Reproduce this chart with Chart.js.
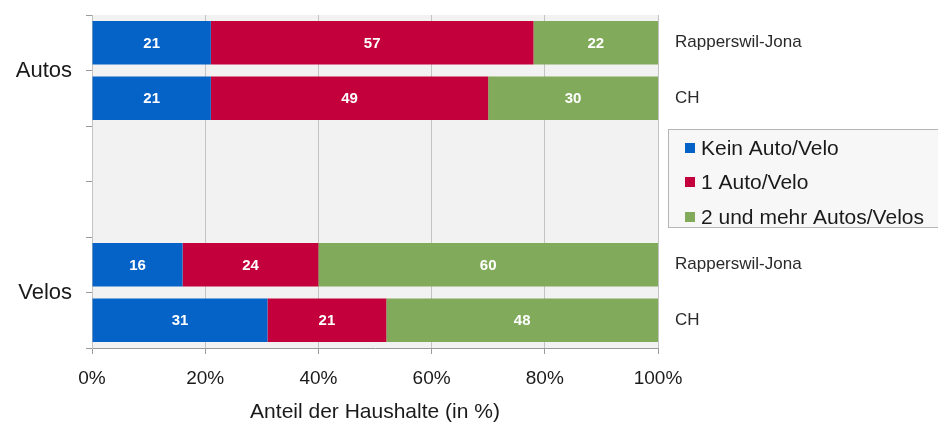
<!DOCTYPE html>
<html>
<head>
<meta charset="utf-8">
<script src="https://cdn.jsdelivr.net/npm/chart.js@4/dist/chart.umd.min.js"></script>
<style>
html,body{margin:0;padding:0;background:#fff;}
#wrap{width:938px;height:428px;position:relative;}
</style>
</head>
<body>
<div id="wrap"><canvas id="c" width="938" height="428"></canvas></div>
<script>
// ---- data ----
const categories = ['Rapperswil-Jona', 'CH', '', '', 'Rapperswil-Jona', 'CH'];
const groupLabels = ['Autos', 'Velos'];
const groupPositions = [1, 5];
const seriesNames = ['Kein Auto/Velo', '1 Auto/Velo', '2 und mehr Autos/Velos'];
const keinValues = [21, 21, null, null, 16, 31];
const einValues = [57, 49, null, null, 24, 21];
const zweiValues = [22, 30, null, null, 60, 48];
const xTickValues = [0, 20, 40, 60, 80, 100];
const groupTickValues = [0, 1, 2, 3, 4, 5, 6];
const seriesColors = ['#0563c8', '#c3003c', '#81aa5b'];

const FONT = "'Liberation Sans', Arial, sans-serif";

const bgPlugin = {
  id: 'bg',
  beforeDraw(chart) {
    const a = chart.chartArea, ctx = chart.ctx;
    ctx.save();
    ctx.fillStyle = '#f2f2f2';
    ctx.fillRect(a.left, a.top, a.right - a.left, a.bottom - a.top);
    ctx.restore();
  }
};

const labelPlugin = {
  id: 'barLabels',
  afterDatasetsDraw(chart) {
    const ctx = chart.ctx;
    ctx.save();
    ctx.fillStyle = '#ffffff';
    ctx.font = "bold 15px " + FONT;
    ctx.textAlign = 'center';
    ctx.textBaseline = 'middle';
    chart.data.datasets.forEach((ds, di) => {
      const meta = chart.getDatasetMeta(di);
      meta.data.forEach((el, i) => {
        const v = ds.data[i];
        if (v === null || v === undefined) return;
        const cx = (el.x + el.base) / 2;
        ctx.fillText(String(v), cx, el.y + 1);
      });
    });
    ctx.restore();
  }
};

const legendPlugin = {
  id: 'boxLegend',
  afterDraw(chart) {
    const ctx = chart.ctx;
    const x = 668, y = 129, w = 275, h = 98;
    ctx.save();
    ctx.fillStyle = '#f7f7f7';
    ctx.fillRect(x, y, w, h);
    ctx.strokeStyle = '#b5b5b5';
    ctx.lineWidth = 1;
    ctx.strokeRect(x + 0.5, y + 0.5, w, h);
    ctx.font = "21px " + FONT;
    ctx.textBaseline = 'middle';
    ctx.textAlign = 'left';
    const rows = [148, 182, 217];
    chart.data.datasets.forEach((ds, i) => {
      ctx.fillStyle = ds.backgroundColor;
      ctx.fillRect(685, rows[i] - 5, 10, 10);
      ctx.fillStyle = '#1a1a1a';
      ctx.fillText(ds.label, 701, rows[i] + 1);
    });
    ctx.restore();
  }
};

new Chart(document.getElementById('c'), {
  type: 'bar',
  data: {
    labels: categories,
    datasets: [
      { label: seriesNames[0], data: keinValues, backgroundColor: seriesColors[0] },
      { label: seriesNames[1], data: einValues, backgroundColor: seriesColors[1] },
      { label: seriesNames[2], data: zweiValues, backgroundColor: seriesColors[2] }
    ]
  },
  options: {
    indexAxis: 'y',
    responsive: false,
    animation: false,
    layout: { padding: { top: 15, left: 0, right: 0, bottom: 0 } },
    datasets: { bar: { barPercentage: 0.78, categoryPercentage: 1, borderWidth: 0 } },
    plugins: { legend: { display: false }, tooltip: { enabled: false } },
    scales: {
      x: {
        type: 'linear', position: 'bottom', stacked: true, min: 0, max: 100,
        afterBuildTicks(axis) { axis.ticks = xTickValues.map(v => ({ value: v })); },
        ticks: { callback: v => v + '%', color: '#1a1a1a', font: { size: 19, family: FONT }, padding: 13 },
        grid: { color: '#c3c3c3', tickColor: '#9a9a9a', tickLength: 6, lineWidth: 1 },
        border: { display: true, color: '#9a9a9a' },
        title: { display: true, text: 'Anteil der Haushalte (in %)', color: '#1a1a1a', font: { size: 21, family: FONT }, padding: { top: 8, bottom: 3 } },
        afterFit(axis) { axis.height = 80; }
      },
      y: {
        type: 'category', position: 'right', stacked: true,
        grid: { display: false, drawTicks: false },
        border: { display: false },
        ticks: { color: '#2a2a2a', font: { size: 17, family: FONT }, padding: 17 },
        afterFit(axis) { axis.width = 280; axis.paddingTop = 0; axis.paddingBottom = 0; }
      },
      yg: {
        type: 'linear', position: 'left', min: 0, max: 6, reverse: true,
        offset: false,
        afterBuildTicks(axis) { axis.ticks = groupTickValues.map(v => ({ value: v })); },
        ticks: {
          autoSkip: false,
          color: '#1a1a1a', font: { size: 22, family: FONT }, padding: 14,
          callback: v => { const k = groupPositions.indexOf(v); return k >= 0 ? groupLabels[k] : ''; }
        },
        grid: { offset: false, drawOnChartArea: false, tickColor: '#9a9a9a', tickLength: 6 },
        border: { display: true, color: '#c3c3c3' },
        afterFit(axis) { axis.width = 92; axis.paddingTop = 0; axis.paddingBottom = 0; }
      }
    }
  },
  plugins: [bgPlugin, labelPlugin, legendPlugin]
});
</script>
</body>
</html>
